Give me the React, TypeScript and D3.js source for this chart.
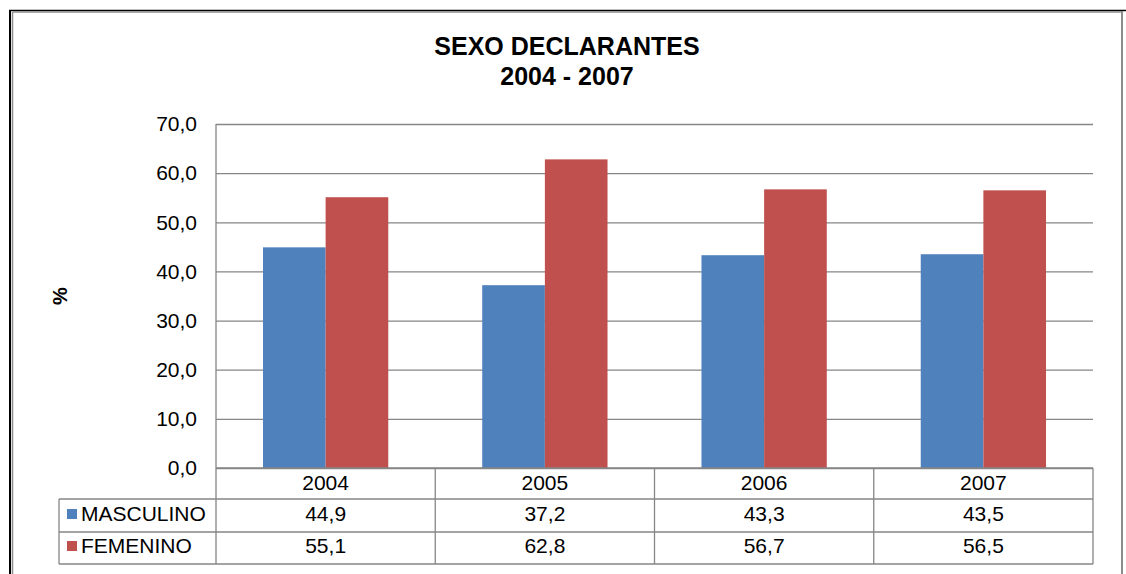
import React, { useRef, useEffect } from "react";
import * as d3 from "d3";

const years = ["2004", "2005", "2006", "2007"];
const seriesNames = ["MASCULINO", "FEMENINO"];
const masculino = [44.9, 37.2, 43.3, 43.5];
const femenino = [55.1, 62.8, 56.7, 56.5];
const yTicks = [0, 10, 20, 30, 40, 50, 60, 70];
const colors = ["#4F81BD", "#C0504D"];

const W = 1126;
const H = 574;
const FONT = "'Liberation Sans', Arial, sans-serif";
const GRID = "#868686";
const FS = "21px";

const App = () => {
    const svgRef = useRef<SVGSVGElement>(null);

    useEffect(() => {
        const svg = d3.select(svgRef.current);
        svg.selectAll("*").remove();

        const margin = { top: 124, left: 216, right: 33, zero: 468 };
        const values = [masculino, femenino];

        const x = d3.scaleBand()
            .domain(years)
            .range([margin.left, W - margin.right])
            .paddingInner(0)
            .paddingOuter(0);

        const xs = d3.scaleBand()
            .domain(seriesNames)
            .range([0, x.bandwidth()])
            .paddingInner(0)
            .paddingOuter(0.75);

        const y = d3.scaleLinear()
            .domain([0, 70])
            .range([margin.zero, margin.top]);

        svg.append("rect").attr("width", W).attr("height", H).attr("fill", "#fff");

        // frame
        svg.append("line").attr("x1", 9).attr("x2", W).attr("y1", 10.5).attr("y2", 10.5)
            .attr("stroke", "#000").attr("stroke-width", 1.5);
        svg.append("line").attr("x1", 10).attr("x2", 10).attr("y1", 10).attr("y2", H)
            .attr("stroke", "#000").attr("stroke-width", 2);
        svg.append("line").attr("x1", 12.5).attr("x2", 1122).attr("y1", 12).attr("y2", 12)
            .attr("stroke", "#8c8c8c").attr("stroke-width", 1.5);
        svg.append("line").attr("x1", 12.5).attr("x2", 12.5).attr("y1", 12).attr("y2", H)
            .attr("stroke", "#8c8c8c").attr("stroke-width", 1.5);
        svg.append("line").attr("x1", 1122).attr("x2", 1122).attr("y1", 11).attr("y2", H)
            .attr("stroke", "#8c8c8c").attr("stroke-width", 2);

        // title
        const title = svg.append("text")
            .attr("text-anchor", "middle")
            .style("font-family", FONT)
            .style("font-size", "25px")
            .style("font-weight", "bold")
            .attr("fill", "#000");
        title.append("tspan").attr("x", 567).attr("y", 55).text("SEXO DECLARANTES");
        title.append("tspan").attr("x", 567).attr("y", 85).text("2004 - 2007");

        // gridlines + y axis
        const yAxis = svg.append("g")
            .attr("transform", `translate(${margin.left},0)`)
            .call(d3.axisLeft(y).tickValues(yTicks)
                .tickSize(-(W - margin.right - margin.left))
                .tickPadding(19)
                .tickFormat(d => (d as number).toFixed(1).replace(".", ",")));
        yAxis.select(".domain").remove();
        yAxis.selectAll(".tick line").attr("stroke", GRID).attr("stroke-width", 1.3);
        yAxis.selectAll(".tick text")
            .attr("fill", "#000")
            .style("font-family", FONT)
            .style("font-size", FS);
        svg.append("line").attr("x1", margin.left).attr("x2", margin.left)
            .attr("y1", margin.top).attr("y2", margin.zero)
            .attr("stroke", GRID).attr("stroke-width", 1.3);

        svg.append("text")
            .attr("transform", `translate(67,296) rotate(-90)`)
            .attr("text-anchor", "middle")
            .style("font-family", FONT)
            .style("font-size", "20px")
            .style("font-weight", "bold")
            .text("%");

        // bars
        seriesNames.forEach((s, si) => {
            svg.append("g").selectAll("rect")
                .data(years)
                .enter()
                .append("rect")
                .attr("x", d => (x(d) as number) + (xs(s) as number))
                .attr("y", (d, i) => y(values[si][i]))
                .attr("width", xs.bandwidth())
                .attr("height", (d, i) => y(0) - y(values[si][i]))
                .attr("fill", colors[si]);
        });

        // data table
        const rowH = [margin.zero, 499, 532, 564];
        const legendLeft = 59;
        const right = W - margin.right;
        const tbl = svg.append("g").attr("stroke", GRID).attr("stroke-width", 1.3);
        tbl.append("line").attr("x1", margin.left).attr("x2", right)
            .attr("y1", rowH[0]).attr("y2", rowH[0]);
        [1, 2, 3].forEach(r => {
            tbl.append("line").attr("x1", legendLeft).attr("x2", right)
                .attr("y1", rowH[r]).attr("y2", rowH[r]);
        });
        tbl.append("line").attr("x1", legendLeft).attr("x2", legendLeft)
            .attr("y1", rowH[1]).attr("y2", rowH[3]);
        years.forEach(yr => {
            const cx = x(yr) as number;
            tbl.append("line").attr("x1", cx).attr("x2", cx)
                .attr("y1", rowH[0]).attr("y2", rowH[3]);
        });
        tbl.append("line").attr("x1", right).attr("x2", right)
            .attr("y1", rowH[0]).attr("y2", rowH[3]);

        const cellText = (g, tx, ty, str, anchor = "middle") =>
            g.append("text")
                .attr("x", tx).attr("y", ty)
                .attr("text-anchor", anchor)
                .style("font-family", FONT)
                .style("font-size", FS)
                .attr("fill", "#000")
                .text(str);

        years.forEach((yr, i) => {
            const cx = (x(yr) as number) + x.bandwidth() / 2;
            cellText(svg, cx, 490, yr);
            cellText(svg, cx, 521, masculino[i].toFixed(1).replace(".", ","));
            cellText(svg, cx, 553, femenino[i].toFixed(1).replace(".", ","));
        });

        seriesNames.forEach((s, si) => {
            const base = si === 0 ? 521 : 553;
            svg.append("rect")
                .attr("x", 67).attr("y", base - 12)
                .attr("width", 10).attr("height", 10)
                .attr("fill", colors[si]);
            cellText(svg, 81, base, s, "start");
        });
    }, []);

    return (
        <div style={{ position: "absolute", left: 0, top: 0 }}>
            <svg ref={svgRef} width={W} height={H} style={{ display: "block" }}></svg>
        </div>
    );
};

export default App;
